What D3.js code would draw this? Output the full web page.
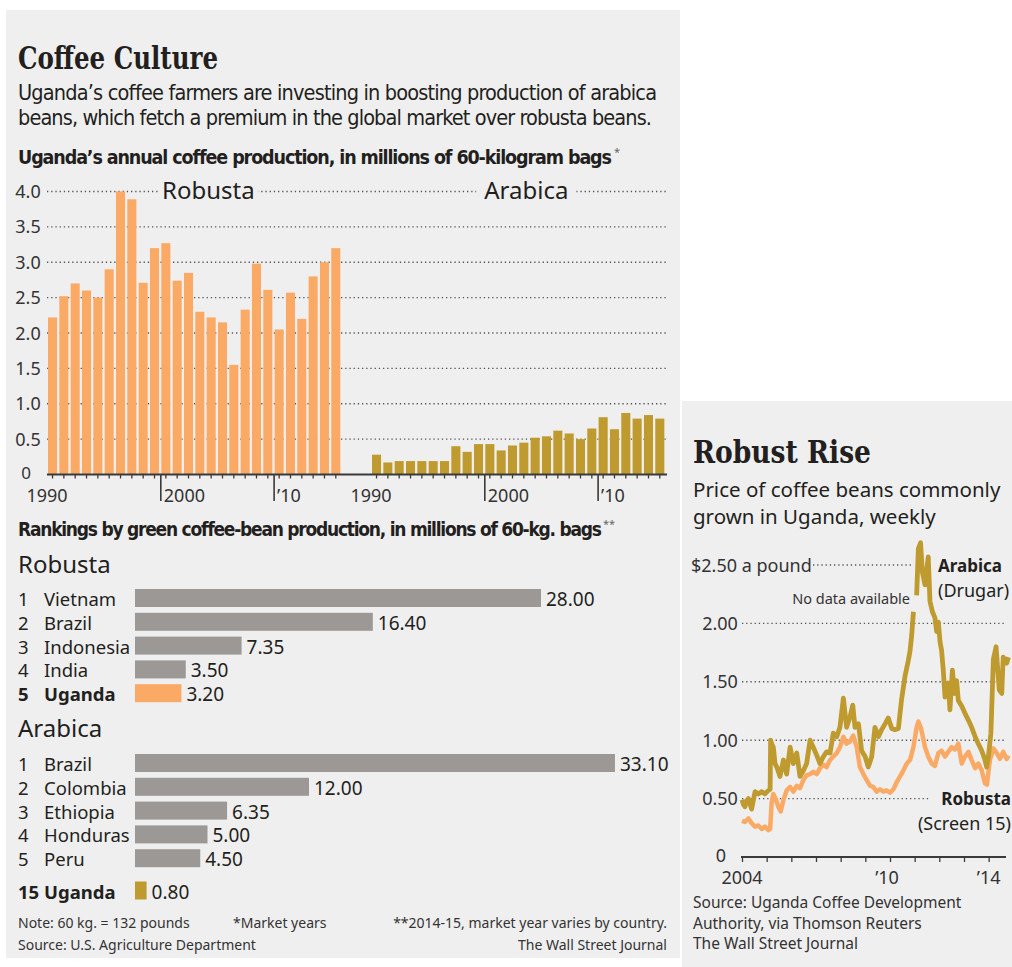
<!DOCTYPE html>
<html>
<head>
<meta charset="utf-8">
<script src="https://d3js.org/d3.v7.min.js"></script>
<style>
  body { margin: 0; background: #fff; }
  svg text { fill: #231f20; }
</style>
</head>
<body>
<script>
var years = [1990, 1991, 1992, 1993, 1994, 1995, 1996, 1997, 1998, 1999,
             2000, 2001, 2002, 2003, 2004, 2005, 2006, 2007, 2008, 2009,
             2010, 2011, 2012, 2013, 2014, 2015];
var robustaBags = [2.22, 2.52, 2.70, 2.60, 2.50, 2.90, 4.00, 3.89, 2.71, 3.20,
                   3.27, 2.74, 2.85, 2.30, 2.22, 2.15, 1.55, 2.33, 2.98, 2.61,
                   2.05, 2.57, 2.20, 2.80, 3.00, 3.20];
var arabicaBags = [0.28, 0.17, 0.19, 0.19, 0.19, 0.19, 0.19, 0.40, 0.32, 0.43,
                   0.43, 0.34, 0.41, 0.45, 0.52, 0.54, 0.62, 0.58, 0.50, 0.65,
                   0.81, 0.64, 0.87, 0.79, 0.84, 0.79];
var bagTicks = [0, 0.5, 1.0, 1.5, 2.0, 2.5, 3.0, 3.5, 4.0];

var robustaRankNames = ["Vietnam", "Brazil", "Indonesia", "India", "Uganda"];
var robustaRankValues = [28.00, 16.40, 7.35, 3.50, 3.20];
var arabicaRankNames = ["Brazil", "Colombia", "Ethiopia", "Honduras", "Peru"];
var arabicaRankValues = [33.10, 12.00, 6.35, 5.00, 4.50];
var ugandaArabicaRank = 15, ugandaArabicaValue = 0.80;

// weekly prices, $ a pound, [decimal year, price]
var robustaPrice = [[2004.00,0.31],[2004.12,0.30],[2004.26,0.33],[2004.39,0.29],[2004.53,0.26],[2004.66,0.27],
  [2004.80,0.24],[2004.93,0.26],[2005.07,0.23],[2005.14,0.24],[2005.20,0.46],[2005.27,0.54],[2005.38,0.49],
  [2005.47,0.43],[2005.57,0.39],[2005.68,0.49],[2005.81,0.57],[2005.95,0.60],[2006.08,0.56],[2006.22,0.61],
  [2006.35,0.59],[2006.49,0.66],[2006.62,0.70],[2006.76,0.71],[2006.89,0.73],[2007.03,0.71],[2007.16,0.76],
  [2007.30,0.79],[2007.43,0.77],[2007.57,0.83],[2007.70,0.86],[2007.84,0.89],[2007.97,0.94],[2008.11,1.03],
  [2008.24,0.97],[2008.38,0.99],[2008.51,1.04],[2008.65,0.94],[2008.78,0.77],[2008.92,0.71],[2009.05,0.66],
  [2009.19,0.61],[2009.32,0.60],[2009.46,0.56],[2009.59,0.58],[2009.73,0.56],[2009.86,0.57],[2010.00,0.55],
  [2010.14,0.58],[2010.27,0.64],[2010.41,0.69],[2010.54,0.74],[2010.68,0.80],[2010.81,0.83],[2010.95,0.94],
  [2011.08,1.11],[2011.15,1.16],[2011.26,1.10],[2011.42,0.94],[2011.55,0.86],[2011.69,0.80],[2011.82,0.78],
  [2011.96,0.89],[2012.09,0.91],[2012.23,0.86],[2012.36,0.90],[2012.50,0.94],[2012.63,0.92],[2012.77,0.97],
  [2012.91,0.80],[2013.04,0.86],[2013.18,0.90],[2013.31,0.83],[2013.45,0.76],[2013.58,0.80],[2013.72,0.74],
  [2013.85,0.63],[2013.93,0.62],[2014.05,0.83],[2014.19,0.93],[2014.30,0.90],[2014.46,0.84],[2014.59,0.90],
  [2014.73,0.84],[2014.80,0.87]];
var arabicaPrice = [[2004.00,0.49],[2004.06,0.45],[2004.12,0.43],[2004.19,0.48],[2004.26,0.50],[2004.39,0.41],
  [2004.53,0.56],[2004.66,0.54],[2004.80,0.56],[2004.93,0.54],[2005.07,0.57],[2005.14,0.58],[2005.16,1.00],
  [2005.22,0.96],[2005.27,0.94],[2005.34,0.80],[2005.41,0.77],[2005.54,0.69],[2005.68,0.83],[2005.81,0.71],
  [2005.95,0.94],[2006.08,0.80],[2006.22,0.89],[2006.35,0.69],[2006.49,0.74],[2006.62,0.80],[2006.76,1.00],
  [2006.89,0.94],[2007.03,0.87],[2007.16,0.80],[2007.30,0.86],[2007.43,0.90],[2007.57,0.89],[2007.70,1.06],
  [2007.84,1.03],[2007.97,1.11],[2008.11,1.36],[2008.24,1.11],[2008.38,1.20],[2008.49,1.30],[2008.58,1.11],
  [2008.72,1.14],[2008.85,0.91],[2008.99,0.86],[2009.12,0.77],[2009.26,0.86],[2009.39,1.11],[2009.53,1.03],
  [2009.66,1.09],[2009.80,1.14],[2009.93,1.19],[2010.07,1.10],[2010.20,1.09],[2010.34,1.10],[2010.47,1.35],
  [2010.61,1.55],[2010.74,1.68],[2010.81,1.76],[2010.88,1.90],[2010.95,2.10],[2011.00,null],[2011.08,2.24],
  [2011.15,2.64],[2011.24,2.69],[2011.31,2.44],[2011.42,2.33],[2011.55,2.57],[2011.62,2.19],[2011.72,2.10],
  [2011.82,2.05],[2011.89,1.93],[2011.96,2.01],[2012.03,1.84],[2012.09,1.77],[2012.16,1.60],[2012.23,1.37],
  [2012.36,1.49],[2012.43,1.26],[2012.53,1.60],[2012.61,1.40],[2012.70,1.51],[2012.77,1.34],[2012.91,1.29],
  [2013.04,1.23],[2013.18,1.17],[2013.31,1.11],[2013.45,1.03],[2013.58,0.97],[2013.72,0.91],[2013.85,0.83],
  [2013.92,0.77],[2013.99,0.86],[2014.09,1.06],[2014.19,1.69],[2014.30,1.80],[2014.43,1.43],[2014.53,1.40],
  [2014.59,1.71],[2014.73,1.66],[2014.80,1.71]];
var priceTicks = [0.5, 1.0, 1.5, 2.0];
var priceYears = [2004, 2005, 2006, 2007, 2008, 2009, 2010, 2011, 2012, 2013, 2014];

// ---- look ----
var NARROW = '"Liberation Sans Narrow", "Arial Narrow", "DejaVu Sans Condensed", sans-serif';
var SANS = '"Noto Sans", "Open Sans", "DejaVu Sans", sans-serif';
var SLAB = '"DejaVu Serif Condensed", "DejaVu Serif", serif';
var ORANGE = '#fbaa66', GOLD = '#bf9b2f', GRAY = '#9c9896', BG = '#efefef', AXIS = '#3a3a3a';

var svg = d3.select('body').append('svg')
  .attr('width', 1012)
  .attr('height', 967);

svg.append('rect').attr('x', 6).attr('y', 10).attr('width', 674).attr('height', 948).attr('fill', BG);
svg.append('rect').attr('x', 682).attr('y', 401).attr('width', 330).attr('height', 566).attr('fill', BG);

function label(x, y, s, size, font, opt) {
  opt = opt || {};
  var t = svg.append('text')
    .attr('x', x).attr('y', y)
    .style('font-family', font)
    .style('font-size', size + 'px')
    .style('font-weight', opt.bold ? 'bold' : 'normal')
    .attr('text-anchor', opt.anchor || 'start')
    .text(s);
  if (opt.len) t.attr('textLength', opt.len).attr('lengthAdjust', opt.adjust || 'spacing');
  if (opt.color) t.style('fill', opt.color);
  return t;
}

// ---- headings ----
label(18, 69, 'Coffee Culture', 31, SLAB, {bold: true, len: 200, adjust: 'spacingAndGlyphs'});
label(18, 100, 'Uganda\u2019s coffee farmers are investing in boosting production of arabica', 21.5, NARROW, {len: 639});
label(18, 125, 'beans, which fetch a premium in the global market over robusta beans.', 21.5, NARROW, {len: 634});
label(18, 164, 'Uganda\u2019s annual coffee production, in millions of 60-kilogram bags', 19.5, NARROW, {bold: true, len: 594});
label(614, 156, '*', 11, SANS, {color: '#666'});

// ---- annual production bars ----
var yBags = d3.scaleLinear().domain([0, 4]).range([474.5, 191.5]);
var xRob = d3.scaleBand().domain(years).range([48, 342.6]).paddingInner(0.2).paddingOuter(0.1).align(0);
var xAra = d3.scaleBand().domain(years).range([372, 666.6]).paddingInner(0.2).paddingOuter(0.1).align(0);

var grid = svg.append('g');
bagTicks.filter(function(d) { return d > 0; }).forEach(function(d) {
  grid.append('line')
    .attr('x1', 47).attr('x2', 667)
    .attr('y1', yBags(d)).attr('y2', yBags(d))
    .attr('stroke', '#555').attr('stroke-width', 1.4)
    .attr('stroke-dasharray', '1.3,2.9');
});
bagTicks.forEach(function(d) {
  label(d === 0 ? 26 : 28, yBags(d) + (d === 0 ? 4 : 6.5), d === 0 ? '0' : d3.format('.1f')(d), d === 0 ? 17 : 18, SANS,
        {anchor: 'middle', color: '#333'});
});

svg.append('g').selectAll('rect').data(robustaBags).enter().append('rect')
  .attr('x', function(d, i) { return xRob(years[i]); })
  .attr('y', function(d) { return yBags(d); })
  .attr('width', xRob.bandwidth())
  .attr('height', function(d) { return yBags(0) - yBags(d); })
  .attr('fill', ORANGE);
svg.append('g').selectAll('rect').data(arabicaBags).enter().append('rect')
  .attr('x', function(d, i) { return xAra(years[i]); })
  .attr('y', function(d) { return yBags(d); })
  .attr('width', xAra.bandwidth())
  .attr('height', function(d) { return yBags(0) - yBags(d); })
  .attr('fill', GOLD);

// series names sit on the 4.0 gridline
[[xRob, 'Robusta', 13], [xAra, 'Arabica', 7]].forEach(function(p) {
  var cx = (p[0].range()[0] + p[0].range()[1]) / 2 + p[2];
  svg.append('rect').attr('x', cx - 50).attr('y', 178).attr('width', 100).attr('height', 26).attr('fill', BG);
  label(cx, 199, p[1], 24, SANS, {anchor: 'middle'});
});

[xRob, xAra].forEach(function(xs) {
  var ax = svg.append('g')
    .attr('transform', 'translate(0,' + yBags(0) + ')')
    .call(d3.axisBottom(xs).tickSize(4).tickFormat(''));
  ax.select('.domain').remove();
  ax.selectAll('line').attr('stroke', AXIS).attr('stroke-width', 1.3);
  [2000, 2010].forEach(function(yr) {
    svg.append('line')
      .attr('x1', xs(yr) - 0.5).attr('x2', xs(yr) - 0.5)
      .attr('y1', yBags(0)).attr('y2', 501)
      .attr('stroke', AXIS).attr('stroke-width', 1.6);
  });
  label(xs(1990) - 1, 502, '1990', 18, SANS, {anchor: 'middle', color: '#333'});
  label(xs(2000) + 2.5, 502, '2000', 18, SANS, {color: '#333'});
  label(xs(2010) + 2.5, 502, '\u201910', 18, SANS, {color: '#333'});
});
svg.append('line')
  .attr('x1', 47).attr('x2', 667)
  .attr('y1', yBags(0)).attr('y2', yBags(0))
  .attr('stroke', AXIS).attr('stroke-width', 2);

// ---- rankings ----
label(18, 536, 'Rankings by green coffee-bean production, in millions of 60-kg. bags', 19, NARROW, {bold: true, len: 584});
label(603, 528, '**', 11, SANS, {color: '#666'});

var xRank = d3.scaleLinear().domain([0, 28]).range([135, 541]);
var fmt2 = d3.format('.2f');

function rankRow(top, rank, name, value, color, bold) {
  svg.append('rect')
    .attr('x', xRank(0)).attr('y', top)
    .attr('width', xRank(value) - xRank(0)).attr('height', 18)
    .attr('fill', color);
  label(18, top + 17, String(rank), 18.5, SANS, {bold: bold});
  label(44, top + 17, name, 18.5, SANS, {bold: bold});
  label(xRank(value) + 5, top + 17, fmt2(value), 19, SANS);
}

label(18, 573, 'Robusta', 24, SANS);
robustaRankNames.forEach(function(n, i) {
  var uganda = n === 'Uganda';
  rankRow(589 + i * 23.8, i + 1, n, robustaRankValues[i], uganda ? ORANGE : GRAY, uganda);
});

label(18, 737, 'Arabica', 24, SANS);
arabicaRankNames.forEach(function(n, i) {
  rankRow(754 + i * 23.8, i + 1, n, arabicaRankValues[i], GRAY, false);
});
rankRow(881.5, ugandaArabicaRank, 'Uganda', ugandaArabicaValue, GOLD, true);

label(18, 928, 'Note: 60 kg. = 132 pounds', 14, SANS, {color: '#333'});
label(233, 928, '*Market years', 14, SANS, {color: '#333'});
label(667, 928, '**2014-15, market year varies by country.', 14, SANS, {anchor: 'end', color: '#333'});
label(18, 950, 'Source: U.S. Agriculture Department', 14, SANS, {color: '#333'});
label(667, 950, 'The Wall Street Journal', 14, SANS, {anchor: 'end', color: '#333'});

// ---- weekly prices ----
label(693, 463, 'Robust Rise', 32, SLAB, {bold: true, len: 178, adjust: 'spacingAndGlyphs'});
label(693, 497, 'Price of coffee beans commonly', 20.5, SANS);
label(693, 523.5, 'grown in Uganda, weekly', 20.5, SANS);

var xT = d3.scaleLinear().domain([2004, 2014.8]).range([742, 1008.4]);
var yP = d3.scaleLinear().domain([0, 2.5]).range([857, 565]);

priceTicks.forEach(function(d) {
  svg.append('line')
    .attr('x1', 742).attr('x2', d === 0.5 ? 930 : 1006)
    .attr('y1', yP(d)).attr('y2', yP(d))
    .attr('stroke', '#555').attr('stroke-width', 1.4)
    .attr('stroke-dasharray', '1.3,2.9');
  label(720, yP(d) + 6.5, d3.format('.2f')(d), 18, SANS, {anchor: 'middle', color: '#333'});
});
svg.append('line')
  .attr('x1', 813).attr('x2', 913)
  .attr('y1', yP(2.5)).attr('y2', yP(2.5))
  .attr('stroke', '#555').attr('stroke-width', 1.4)
  .attr('stroke-dasharray', '1.3,2.9');
label(691, yP(2.5) + 6.5, '$2.50 a pound', 18, SANS, {color: '#333'});
label(721, yP(0) + 5, '0', 18, SANS, {anchor: 'middle', color: '#333'});

var tAxis = svg.append('g')
  .attr('transform', 'translate(0,' + yP(0) + ')')
  .call(d3.axisBottom(xT).tickValues(priceYears).tickSize(5).tickFormat(''));
tAxis.select('.domain').remove();
tAxis.selectAll('line').attr('stroke', AXIS).attr('stroke-width', 1.3);
svg.append('line')
  .attr('x1', 741).attr('x2', 1006)
  .attr('y1', yP(0)).attr('y2', yP(0))
  .attr('stroke', AXIS).attr('stroke-width', 2);
label(xT(2004), 884, '2004', 18, SANS, {anchor: 'middle', color: '#333'});
label(xT(2010) - 3, 884, '\u201910', 18, SANS, {anchor: 'middle', color: '#333'});
label(xT(2014), 884, '\u201914', 18, SANS, {anchor: 'middle', color: '#333'});

var priceLine = d3.line()
  .defined(function(d) { return d[1] != null; })
  .x(function(d) { return xT(d[0]); })
  .y(function(d) { return yP(d[1]); });

svg.append('path')
  .attr('d', priceLine(robustaPrice))
  .attr('fill', 'none').attr('stroke', ORANGE)
  .attr('stroke-width', 4.5).attr('stroke-linejoin', 'round');
svg.append('path')
  .attr('d', priceLine(arabicaPrice))
  .attr('fill', 'none').attr('stroke', GOLD)
  .attr('stroke-width', 4.8).attr('stroke-linejoin', 'round');

label(938, 572, 'Arabica', 17, SANS, {bold: true});
label(938, 597, '(Drugar)', 18, SANS);
label(910, 604, 'No data available', 14.5, SANS, {anchor: 'end', color: '#333'});
label(1011, 805, 'Robusta', 17, SANS, {bold: true, anchor: 'end'});
label(1011, 830, '(Screen 15)', 18, SANS, {anchor: 'end'});

label(693, 908, 'Source: Uganda Coffee Development', 15.5, SANS, {color: '#333'});
label(693, 928.5, 'Authority, via Thomson Reuters', 15.5, SANS, {color: '#333'});
label(693, 949, 'The Wall Street Journal', 15.5, SANS, {color: '#333'});
</script>
</body>
</html>
